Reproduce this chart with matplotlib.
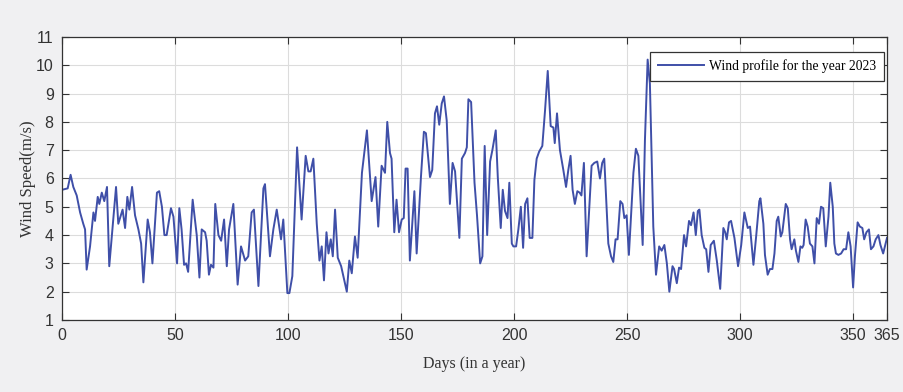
import matplotlib.pyplot as plt

# vertices of the wind profile
day = [
    0, 2.5, 3.8, 5, 6.5, 8, 9.4, 10.2, 10.9, 12.4, 13.9, 14.6, 15.8, 16.5, 17.6, 18.7, 19.9, 20.9, 22.3, 23.9,
    24.9, 26.8, 27.9, 28.9, 29.8, 31, 32.3, 33.8, 35, 36, 37.9, 38.9, 40, 42, 43, 44.2, 45.3, 46.3, 48.2, 49.3,
    50.9, 51.9, 52.9, 54, 54.9, 55.8, 57.8, 59.6, 60.8, 61.8, 63.3, 64, 65, 65.9, 67, 67.8, 69.2, 70.4, 71.7, 72.9,
    73.9, 75.8, 77.7, 79.2, 81, 82.4, 83.9, 84.9, 86.9, 89.1, 89.8, 92, 93.5, 95, 96.9, 97.9, 99.7, 100.6, 101.9, 104,
    106, 107.8, 109, 110, 111.2, 112.7, 113.9, 114.9, 115.9, 117, 117.9, 118.9, 119.8, 120.8, 122, 123.5, 126, 127.1, 128.2, 129.6,
    130.8, 132.7, 134.9, 137, 138.7, 139.9, 141.4, 142.9, 143.9, 145.1, 145.8, 147, 148, 149.1, 150.3, 151.2, 152, 152.9, 153.9, 155.9,
    156.9, 158.8, 160.1, 161, 162.8, 163.8, 165, 165.9, 166.9, 168, 169, 170.2, 171.6, 172.8, 173.9, 175.8, 176.9, 178.3, 179.1, 179.8,
    181, 182.5, 183.6, 185, 186, 187, 188.1, 189.4, 190.4, 191.9, 192.8, 194.1, 195, 196, 197.1, 197.9, 199, 199.7, 200.9, 201.9,
    203, 204, 204.9, 205.9, 206.9, 208.1, 209, 210, 211.1, 212.5, 213.7, 214.9, 216.2, 217.4, 218, 219, 220.3, 221.8, 223, 224,
    225, 225.9, 226.9, 228, 229, 229.8, 230.9, 232.1, 233.3, 234.3, 235.5, 236.8, 238, 239, 239.9, 241.7, 242.9, 243.9, 244.9, 245.8,
    247, 248, 248.8, 249.8, 250.8, 252.8, 253.9, 255, 256.9, 257.9, 259.1, 260.1, 261.6, 262.8, 264.2, 265.3, 266.5, 267.6, 268.7, 270.1,
    270.8, 272, 273, 273.9, 275.2, 276.1, 277.4, 278.3, 279.4, 280.4, 281.3, 282, 283, 284.2, 285, 286, 287, 288.4, 289.7, 291.2,
    292.6, 293.4, 294.1, 295.1, 296, 297.5, 299.1, 300.5, 301.9, 303.4, 304.4, 305.9, 307.1, 308.5, 309, 310.3, 311, 312.2, 313.2, 314.3,
    315.2, 316.2, 316.9, 318, 318.7, 320.2, 321.1, 322.1, 322.8, 324, 324.7, 325.8, 326.7, 327.5, 328.1, 329, 329.9, 330.9, 332, 332.9,
    333.9, 334.9, 335.8, 336.8, 337.9, 339.1, 339.9, 341, 341.7, 342.4, 343.5, 344.7, 345.8, 346.9, 347.9, 348.9, 350, 350.8, 352, 353,
    354.1, 354.9, 355.9, 357, 357.9, 359, 360, 361.2, 362.1, 363.3, 364.2, 365,
]
wind_speed = [
    5.6, 5.65, 6.13, 5.7, 5.4, 4.8, 4.4, 4.2, 2.78, 3.6, 4.8, 4.5, 5.35, 5.1, 5.5, 5.2, 5.7, 2.9, 4.2, 5.7,
    4.4, 4.9, 4.25, 5.35, 4.9, 5.7, 4.7, 4.2, 3.7, 2.33, 4.55, 4.1, 3.0, 5.5, 5.55, 5.0, 4.0, 4.0, 4.95, 4.65,
    3.0, 4.95, 4.2, 2.95, 3.0, 2.7, 5.25, 4.0, 2.5, 4.2, 4.1, 3.8, 2.6, 2.95, 2.85, 5.1, 4.0, 3.8, 4.55, 2.9,
    4.2, 5.1, 2.25, 3.6, 3.1, 3.25, 4.8, 4.9, 2.2, 5.65, 5.8, 3.25, 4.2, 4.9, 3.85, 4.55, 1.95, 1.95, 2.55, 7.1,
    4.55, 6.8, 6.25, 6.25, 6.7, 4.4, 3.1, 3.6, 2.4, 4.1, 3.35, 3.85, 3.25, 4.9, 3.2, 2.9, 2.0, 3.1, 2.65, 3.95,
    3.2, 6.2, 7.7, 5.2, 6.05, 4.3, 6.45, 6.2, 8.0, 6.9, 6.7, 4.1, 5.25, 4.1, 4.55, 4.6, 6.35, 6.35, 3.1, 5.55,
    3.35, 6.05, 7.65, 7.6, 6.05, 6.3, 8.3, 8.55, 7.9, 8.65, 8.9, 8.05, 5.1, 6.55, 6.25, 3.9, 6.7, 6.9, 7.1, 8.8,
    8.7, 5.85, 4.7, 3.0, 3.25, 7.15, 4.0, 6.6, 7.0, 7.7, 6.05, 4.25, 5.6, 4.85, 4.6, 5.85, 3.7, 3.6, 3.6, 4.2,
    5.0, 3.55, 5.1, 5.3, 3.9, 3.9, 5.95, 6.7, 6.95, 7.15, 8.4, 9.8, 7.85, 7.8, 7.25, 8.3, 7.0, 6.3, 5.7, 6.3,
    6.8, 5.6, 5.1, 5.55, 5.5, 5.4, 6.55, 3.25, 5.0, 6.45, 6.55, 6.6, 6.0, 6.55, 6.7, 3.7, 3.25, 3.05, 3.85, 3.85,
    5.2, 5.1, 4.6, 4.7, 3.3, 6.2, 7.05, 6.8, 3.65, 7.35, 10.2, 9.35, 4.3, 2.6, 3.6, 3.45, 3.65, 3.0, 2.0, 2.9,
    2.8, 2.3, 2.85, 2.8, 4.0, 3.6, 4.5, 4.35, 4.8, 4.0, 4.85, 4.9, 4.0, 3.55, 3.5, 2.7, 3.65, 3.8, 3.1, 2.1,
    4.25, 4.1, 3.85, 4.45, 4.5, 3.9, 2.9, 3.65, 4.8, 4.25, 4.3, 2.95, 3.95, 5.2, 5.3, 4.4, 3.3, 2.6, 2.8, 2.8,
    3.35, 4.5, 4.65, 3.95, 4.1, 5.1, 4.95, 3.85, 3.5, 3.85, 3.45, 3.05, 3.6, 3.55, 3.65, 4.55, 4.3, 3.7, 3.6, 3.0,
    4.6, 4.4, 5.0, 4.95, 3.6, 4.65, 5.85, 5.0, 3.7, 3.35, 3.3, 3.35, 3.5, 3.5, 4.1, 3.6, 2.15, 3.25, 4.45, 4.3,
    4.25, 3.85, 4.1, 4.2, 3.5, 3.6, 3.85, 4.0, 3.65, 3.35, 3.65, 3.9,
]

x_ticks = [0, 50, 100, 150, 200, 250, 300, 350, 365]
y_ticks = list(range(1, 12))

serif = ['Liberation Serif', 'DejaVu Serif']
tick_font = ['Liberation Sans Narrow', 'Liberation Sans', 'DejaVu Sans']

fig = plt.figure(figsize=(9.04, 3.92), dpi=100, facecolor='#f0f0f2')
ax = fig.add_axes([0.0686, 0.1837, 0.9126, 0.722])

ax.plot(day, wind_speed, color='#3f4fa8', linewidth=1.4, label='Wind profile for the year 2023')

ax.set_xlim(0, 365)
ax.set_ylim(1, 11)
ax.set_xticks(x_ticks)
ax.set_yticks(y_ticks)
ax.grid(True, color='#dcdcdc', linewidth=0.8)
ax.tick_params(direction='in', length=5, width=0.8, colors='#333333', top=True, right=True,
               labelsize=11.5, pad=6)
for lbl in ax.get_xticklabels() + ax.get_yticklabels():
    lbl.set_family(tick_font)
for s in ax.spines.values():
    s.set_color('#333333')
    s.set_linewidth(0.9)

ax.set_xlabel('Days (in a year)', family=serif, fontsize=11.5, color='#333333', labelpad=9)
ax.set_ylabel('Wind Speed(m/s)', family=serif, fontsize=12, color='#333333', labelpad=0)

leg = ax.legend(loc='upper right', bbox_to_anchor=(0.9964, 0.947), prop={'family': serif, 'size': 9.8},
                fancybox=False, framealpha=1, edgecolor='#333333', handlelength=3.4,
                handletextpad=0.4, borderpad=0.55, borderaxespad=0)
leg.get_frame().set_linewidth(0.9)

fig.savefig('out.png', dpi=100, facecolor=fig.get_facecolor())
